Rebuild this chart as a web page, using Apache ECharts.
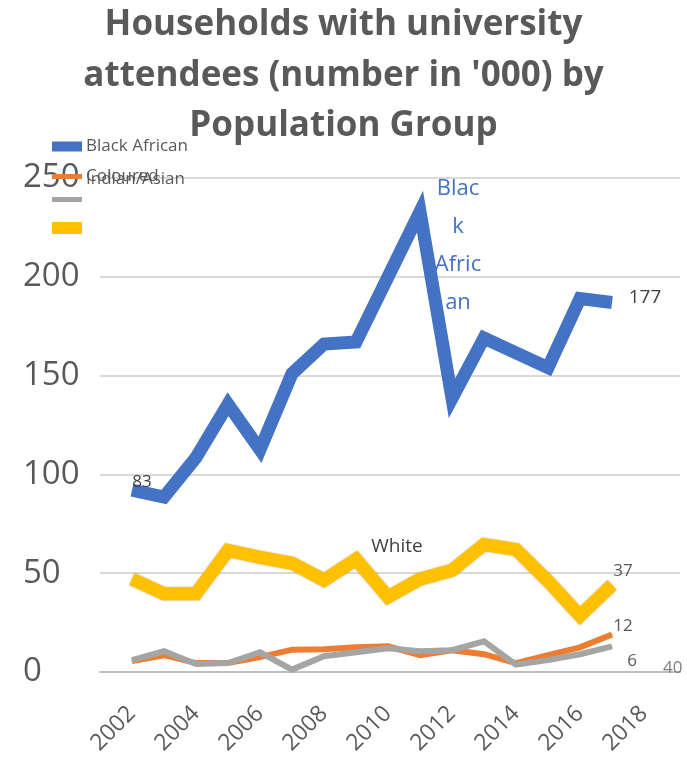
<!DOCTYPE html>
<html>
<head>
<meta charset="utf-8">
<script src="https://cdn.jsdelivr.net/npm/echarts@6/dist/echarts.min.js"></script>
<style>
html,body{margin:0;padding:0;background:#fff;}
#chart{width:687px;height:766px;}
</style>
</head>
<body>
<div id="chart"></div>
<script>
// ---- data ----
const years = [2002, 2003, 2004, 2005, 2006, 2007, 2008, 2009, 2010, 2011, 2012, 2013, 2014, 2015, 2016, 2017];
const blackAfrican = [92, 88.5, 108.5, 135.5, 112.5, 151, 166, 167, 200, 233, 138.5, 169, 161.5, 154, 189, 187];
const coloured     = [5.5, 8.5, 4.5, 4.5, 7.5, 11.3, 11.5, 12.5, 13, 8.5, 11, 9, 4.5, 8.5, 12.5, 19];
const indianAsian  = [6, 10.5, 4, 4.5, 10, 1.2, 8, 10, 12, 10.5, 11, 15.5, 3.7, 6, 9, 13];
const white        = [47, 39.6, 39.6, 61.5, 58, 55, 46.5, 57, 38, 47, 51.5, 64.5, 62, 46, 28.5, 44];
const xTickLabels = [2002, 2004, 2006, 2008, 2010, 2012, 2014, 2016, 2018];
const seriesNames = ['Black African', 'Coloured', 'Indian/Asian', 'White'];
// [point index, label text]
const blackLabels = [[0, '83'], [9, 'Blac\nk\nAfric\nan'], [15, '177']];
const whiteLabels = [[7, 'White'], [15, '37']];
const colouredLabels = [[15, '12']];
const indianLabels = [[15, '6']];
const strayLabel = '40';
const titleText = "Households with university\nattendees (number in '000) by\nPopulation Group";

// ---- styles ----
const FONT = 'Open Sans';
const GREY = '#595959';
const labelStyles = {
  '83':  {offset: [10, -8], fontSize: 17, color: '#404040'},
  'Blac\nk\nAfric\nan': {offset: [38, 34], fontSize: 22, color: '#4472C4', lineHeight: 38},
  '177': {offset: [33, -5], fontSize: 19, color: '#404040'},
  'White': {offset: [41, -13], fontSize: 19, color: '#404040'},
  '37': {offset: [11, -14], fontSize: 17, color: GREY},
  '12': {offset: [11, -8], fontSize: 17, color: GREY},
  '6':  {offset: [20, 15], fontSize: 17, color: GREY}
};

function buildData(vals, labels) {
  return years.map((y, i) => {
    const d = {value: [y, vals[i]]};
    const hit = labels.find(l => l[0] === i);
    if (hit) {
      const st = labelStyles[hit[1]];
      d.label = Object.assign({
        show: true,
        position: 'inside',
        align: 'center',
        verticalAlign: 'middle',
        fontFamily: FONT,
        formatter: hit[1]
      }, st);
    }
    return d;
  });
}

function lineSeries(name, vals, labels, color, width, extra) {
  return Object.assign({
    name: name,
    type: 'line',
    data: buildData(vals, labels),
    symbol: 'circle',
    symbolSize: 1,
    showSymbol: true,
    color: color,
    itemStyle: {color: color},
    lineStyle: {color: color, width: width, join: 'miter', cap: 'butt'},
    label: {show: false},
    emphasis: {disabled: true}
  }, extra || {});
}

const chart = echarts.init(document.getElementById('chart'), null, {renderer: 'canvas'});
const legendBase = {orient: 'vertical', left: 52, padding: 0, itemGap: 0, icon: 'rect', itemWidth: 30,
  selectedMode: false, textStyle: {fontFamily: FONT, fontSize: 17, color: GREY, padding: [0, 0, 0, -1]}};

chart.setOption({
  animation: false,
  backgroundColor: '#fff',
  title: {
    text: titleText,
    left: 'center',
    top: 0,
    padding: 0,
    textStyle: {fontFamily: FONT, fontSize: 35, fontWeight: 'bold', color: GREY, lineHeight: 50.5}
  },
  legend: [
    Object.assign({}, legendBase, {data: [seriesNames[0]], top: 138, itemHeight: 10}),
    Object.assign({}, legendBase, {data: [seriesNames[1]], top: 168, itemHeight: 5}),
    Object.assign({}, legendBase, {data: [seriesNames[2]], top: 197, itemHeight: 5, formatter: () => ''}),
    Object.assign({}, legendBase, {data: [seriesNames[3]], top: 222, itemHeight: 12, formatter: () => ''})
  ],
  graphic: [
    {type: 'text', left: 86, top: 171, z: 100,
      style: {text: seriesNames[2], fontFamily: FONT, fontSize: 17, fill: GREY}},
    {type: 'text', left: 663, top: 660, z: 100,
      style: {text: strayLabel, fontFamily: FONT, fontSize: 17, fill: '#7f7f7f'}}
  ],
  grid: {left: 100, right: 7, top: 178, bottom: 94, containLabel: false},
  xAxis: {
    type: 'value',
    min: 2001,
    max: 2019.125,
    axisLine: {show: true, lineStyle: {color: '#bfbfbf', width: 2}},
    axisTick: {show: false},
    splitLine: {show: false},
    axisLabel: {
      customValues: xTickLabels,
      rotate: 45,
      margin: 38,
      fontFamily: FONT,
      fontSize: 23,
      color: GREY,
      formatter: v => String(v)
    }
  },
  yAxis: {
    type: 'value',
    min: 0,
    max: 250,
    interval: 50,
    axisLine: {show: false},
    axisTick: {show: false},
    splitLine: {show: true, lineStyle: {color: '#d9d9d9', width: 2}},
    axisLabel: {fontFamily: FONT, fontSize: 33, color: GREY, align: 'left', margin: 77}
  },
  series: [
    lineSeries(seriesNames[0], blackAfrican, blackLabels, '#4472C4', 13),
    lineSeries(seriesNames[1], coloured, colouredLabels, '#ED7D31', 6, {}),
    lineSeries(seriesNames[2], indianAsian, indianLabels, '#A5A5A5', 6, {}),
    lineSeries(seriesNames[3], white, whiteLabels, '#FFC000', 13,
      {lineStyle: {color: '#FFC000', width: 13, join: 'miter', shadowColor: 'rgba(140,100,0,0.55)', shadowBlur: 2}})
  ]
});
</script>
</body>
</html>
